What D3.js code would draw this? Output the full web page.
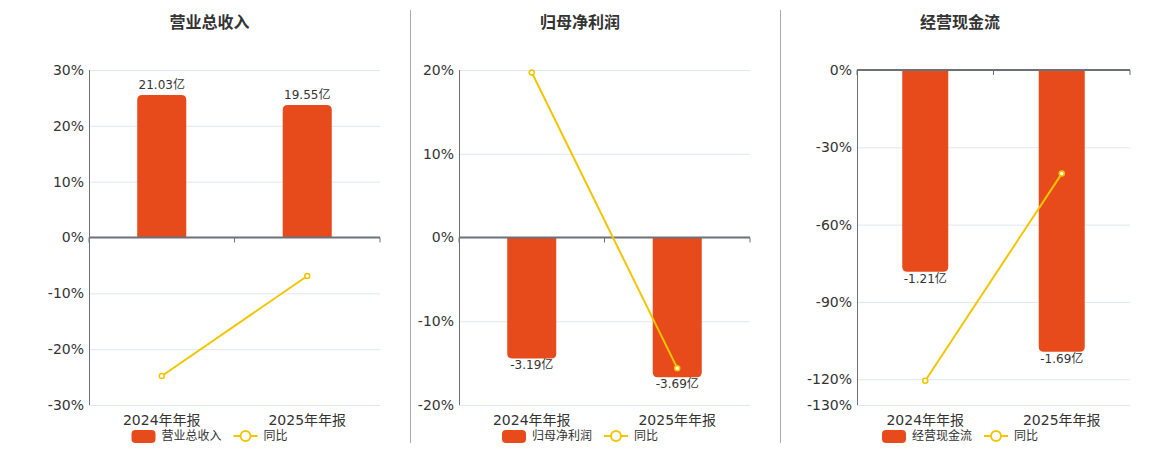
<html>
<head>
<meta charset="utf-8">
<style>
  body{ margin:0; background:#fff; }
  text{ font-family:"DejaVu Sans","Noto Sans CJK SC",sans-serif; }
  .cjk{ font-family:"Noto Sans CJK SC","DejaVu Sans",sans-serif; }
</style>
<script src="https://d3js.org/d3.v7.min.js"></script>
</head>
<body>
<svg id="chart" width="1160" height="450"></svg>
<script>
// data
let categories = ["2024年年报","2025年年报"];
let titles = ["营业总收入","归母净利润","经营现金流"];
let barValues = [[21.03,19.55],[-3.19,-3.69],[-1.21,-1.69]];
let barLabels = [["21.03亿","19.55亿"],["-3.19亿","-3.69亿"],["-1.21亿","-1.69亿"]];
let yoyValues = [[-24.8,-6.9],[19.7,-15.6],[-120.6,-40.2]];
let pctTicks = [[30,20,10,0,-10,-20,-30],[20,10,0,-10,-20],[0,-30,-60,-90,-120,-130]];
let pctDomain = [[-30,30],[-20,20],[-130,0]];
let barDomain = [[-24.7,24.7],[-4.42,4.42],[-2.01,0]];

// layout per panel
let panels = [
  {left:89, right:380, cx:209.5},
  {left:459, right:750, cx:580},
  {left:857, right:1130, cx:960}
];
let plotTop = 70, plotBottom = 405;
let barColor = "#e84b1b", lineColor = "#f2c500", axisColor = "#6e7079";

let svg = d3.select("#chart");

// dividers
[410.5, 780.5].forEach(function(x){
  svg.append("line").attr("x1",x).attr("x2",x).attr("y1",10).attr("y2",443)
    .attr("stroke","#aaa").attr("stroke-width",1);
});

function barPath(x, w, y0, y1, r){
  // rounded corners at the far end of the bar
  let h = Math.abs(y1-y0);
  r = Math.min(r, h, w/2);
  if(y1 < y0){
    return "M"+x+","+y0+"V"+(y1+r)+"Q"+x+","+y1+" "+(x+r)+","+y1+"H"+(x+w-r)+
      "Q"+(x+w)+","+y1+" "+(x+w)+","+(y1+r)+"V"+y0+"Z";
  }
  return "M"+x+","+y0+"V"+(y1-r)+"Q"+x+","+y1+" "+(x+r)+","+y1+"H"+(x+w-r)+
    "Q"+(x+w)+","+y1+" "+(x+w)+","+(y1-r)+"V"+y0+"Z";
}

panels.forEach(function(p, i){
  let g = svg.append("g");
  let x = d3.scaleBand().domain(categories).range([p.left, p.right]);
  let y = d3.scaleLinear().domain(pctDomain[i]).range([plotBottom, plotTop]);
  let yb = d3.scaleLinear().domain(barDomain[i]).range([plotBottom, plotTop]);
  let zeroY = y(0);

  // title
  g.append("text").attr("class","cjk").attr("x",p.cx).attr("y",28).attr("text-anchor","middle")
    .attr("font-size",16).attr("font-weight","bold").attr("fill","#333").text(titles[i]);

  // grid + y labels
  pctTicks[i].forEach(function(t){
    if(t !== 0){
      g.append("line").attr("x1",p.left).attr("x2",p.right).attr("y1",y(t)+0.5).attr("y2",y(t)+0.5)
        .attr("stroke","#e0e6f1").attr("stroke-width",1);
    }
    g.append("text").attr("x",p.left-5).attr("y",y(t)).attr("dy","0.35em").attr("text-anchor","end")
      .attr("font-size",14).attr("fill","#333").text(t+"%");
  });

  // y axis line
  g.append("line").attr("x1",p.left+0.5).attr("x2",p.left+0.5).attr("y1",plotTop).attr("y2",plotBottom)
    .attr("stroke",axisColor).attr("stroke-width",1);

  // bars
  let bw = x.bandwidth()*0.337;
  categories.forEach(function(c, j){
    let bx = x(c) + x.bandwidth()/2 - bw/2;
    let y1 = yb(barValues[i][j]);
    g.append("path").attr("d", barPath(bx, bw, yb(0), y1, 5)).attr("fill",barColor);
    let pos = barValues[i][j] >= 0;
    g.append("text")
      .attr("x",x(c)+x.bandwidth()/2).attr("y", pos ? y1-6 : y1+11)
      .attr("text-anchor","middle").attr("font-size",12).attr("fill","#333").text(barLabels[i][j]);
  });

  // zero axis with ticks
  g.append("line").attr("x1",p.left).attr("x2",p.right).attr("y1",zeroY).attr("y2",zeroY)
    .attr("stroke",axisColor).attr("stroke-width",2);
  [p.left, x(categories[1]), p.right].forEach(function(tx){
    g.append("line").attr("x1",tx).attr("x2",tx).attr("y1",zeroY).attr("y2",zeroY+5)
      .attr("stroke",axisColor).attr("stroke-width",1);
  });

  // x labels
  categories.forEach(function(c){
    g.append("text").attr("x",x(c)+x.bandwidth()/2).attr("y",425).attr("text-anchor","middle")
      .attr("font-size",14).attr("fill","#333").text(c);
  });

  // yoy line
  let pts = categories.map(function(c, j){ return [x(c)+x.bandwidth()/2, y(yoyValues[i][j])]; });
  g.append("path").attr("d", d3.line()(pts)).attr("fill","none").attr("stroke",lineColor).attr("stroke-width",2);
  pts.forEach(function(pt){
    g.append("circle").attr("cx",pt[0]).attr("cy",pt[1]).attr("r",2.5)
      .attr("fill","#fff").attr("stroke",lineColor).attr("stroke-width",1.5);
  });

  // legend
  let lw = 24 + 6 + 60 + 12 + 24 + 6 + 24;
  let lx = p.cx - lw/2, ly = 436;
  g.append("rect").attr("x",lx).attr("y",ly-6).attr("width",24).attr("height",13).attr("rx",4)
    .attr("fill",barColor);
  g.append("text").attr("class","cjk").attr("x",lx+30).attr("y",ly).attr("dy","0.35em")
    .attr("font-size",12).attr("fill","#333").text(titles[i]);
  let sx = lx + 24 + 6 + 60 + 12;
  g.append("line").attr("x1",sx).attr("x2",sx+24).attr("y1",ly).attr("y2",ly)
    .attr("stroke",lineColor).attr("stroke-width",2);
  g.append("circle").attr("cx",sx+12).attr("cy",ly).attr("r",5)
    .attr("fill","#fff").attr("stroke",lineColor).attr("stroke-width",2);
  g.append("text").attr("class","cjk").attr("x",sx+30).attr("y",ly).attr("dy","0.35em")
    .attr("font-size",12).attr("fill","#333").text("同比");
});
</script>
</body>
</html>
